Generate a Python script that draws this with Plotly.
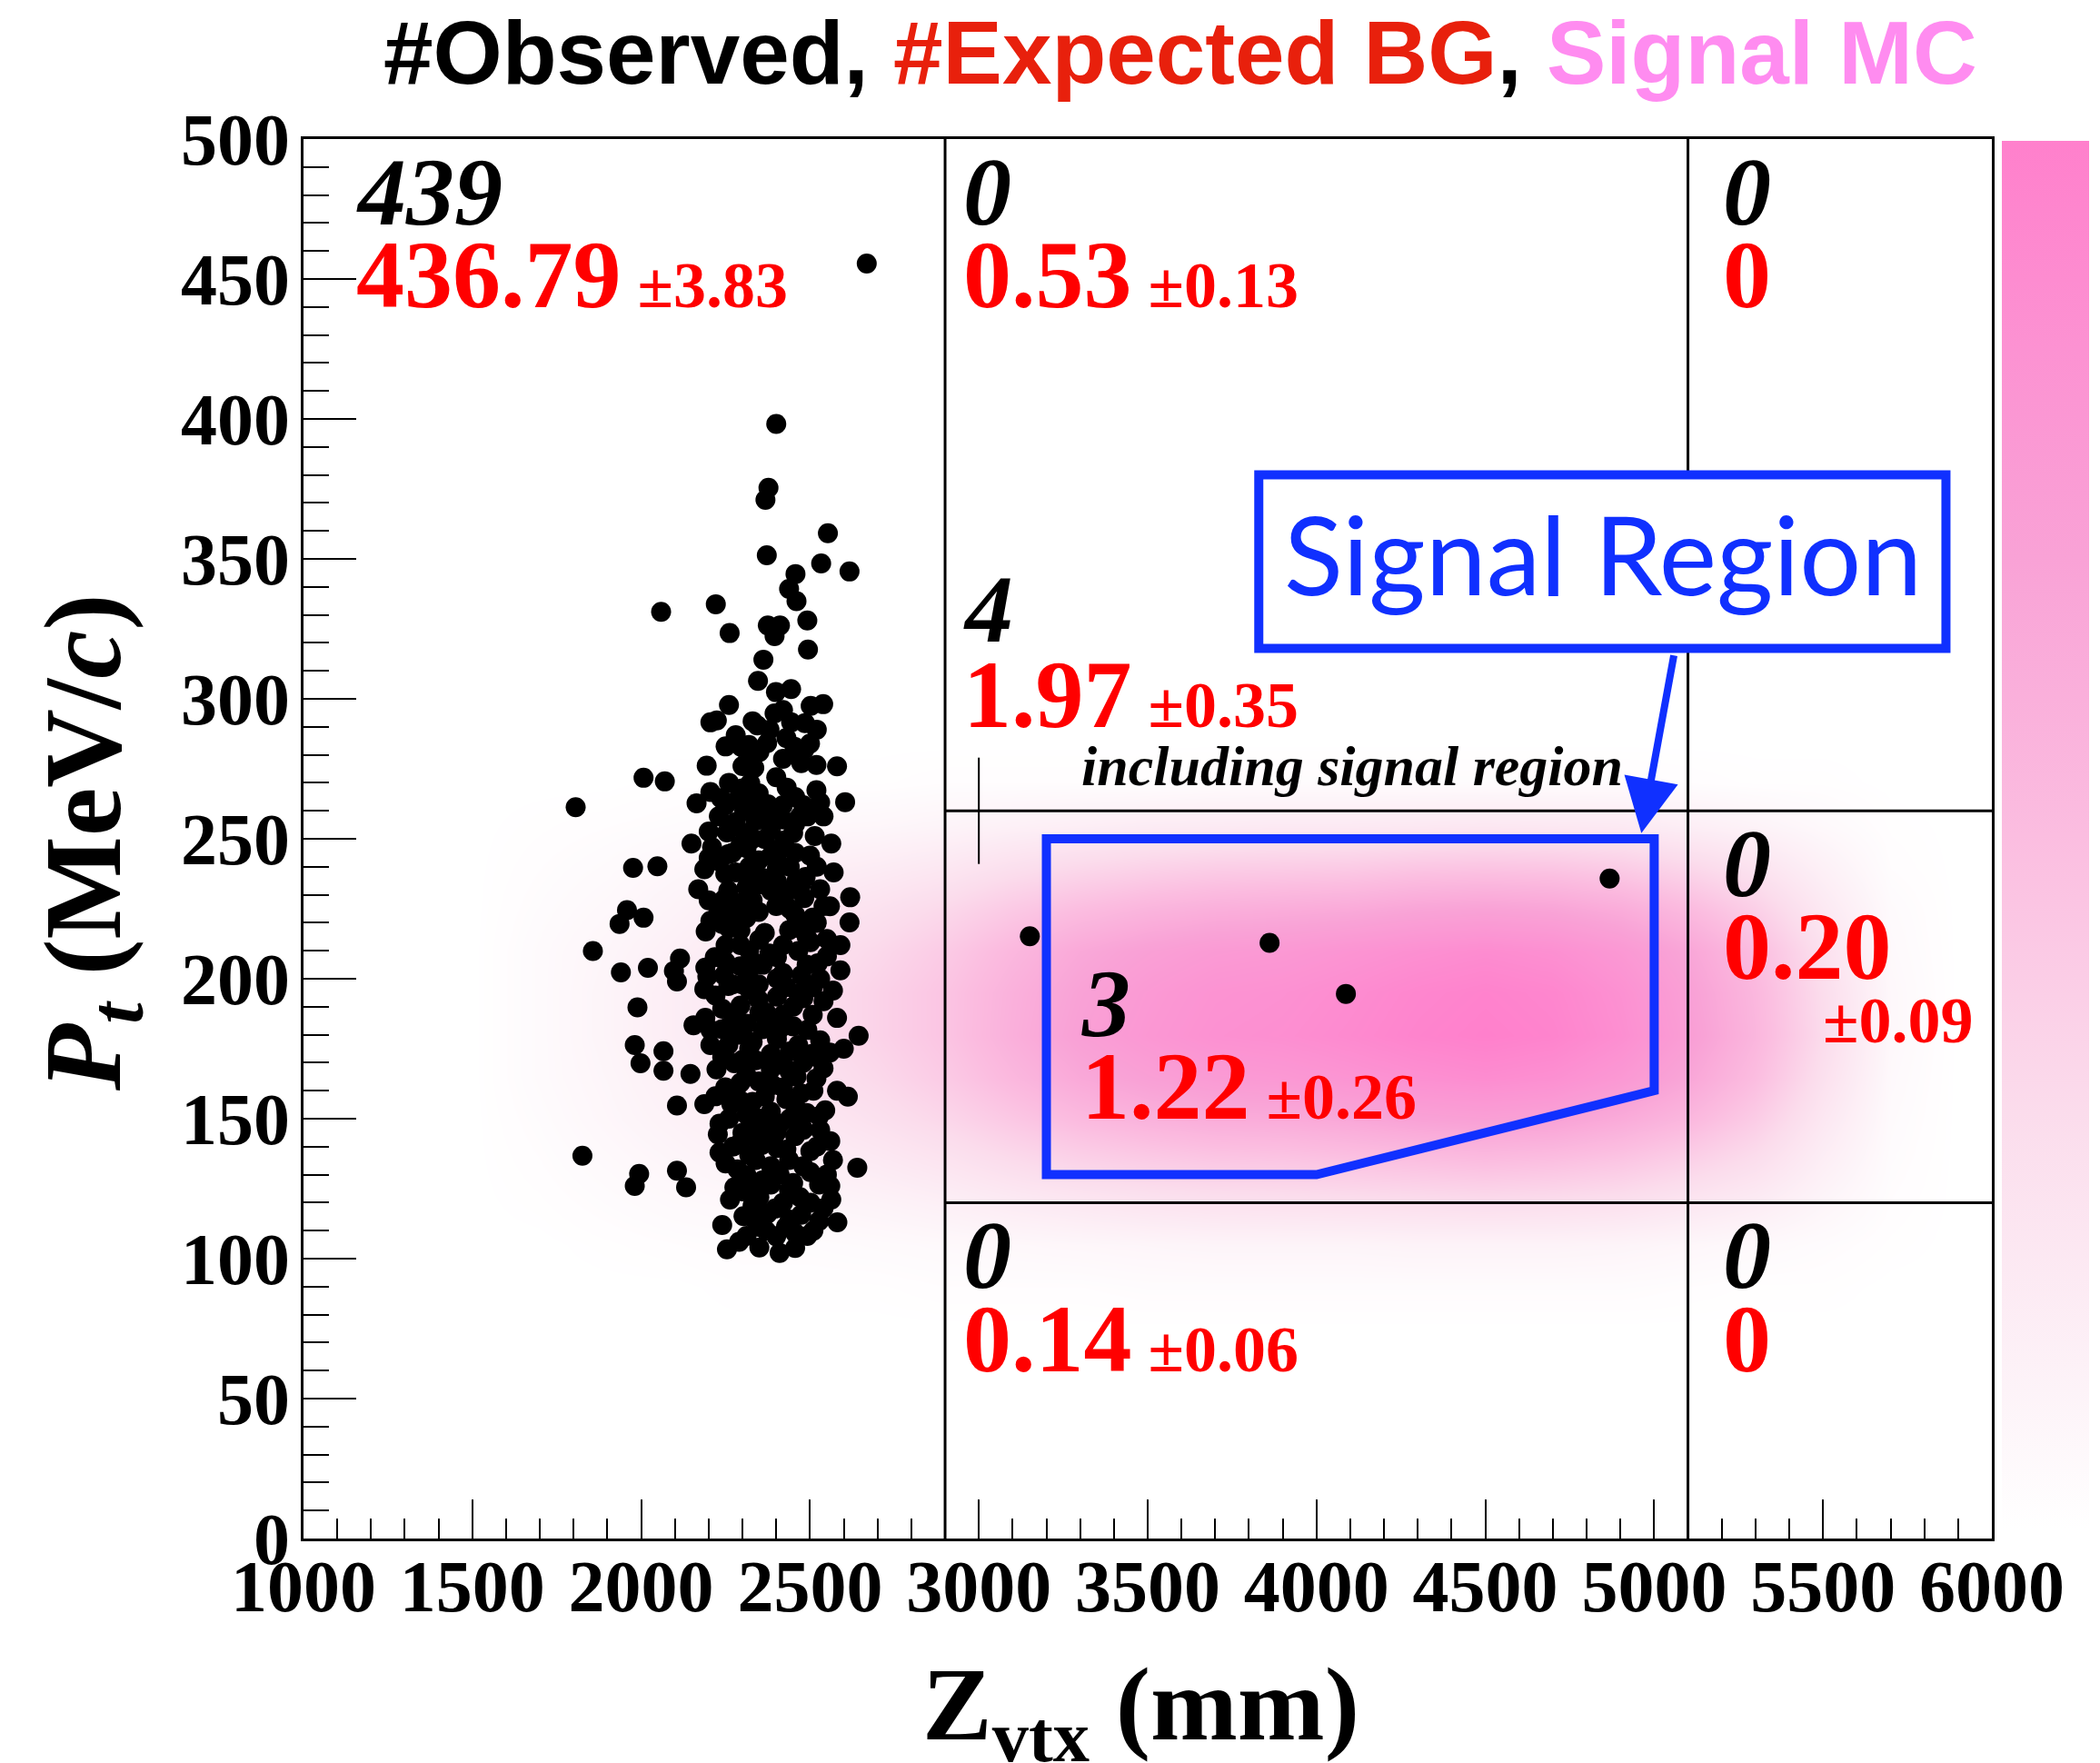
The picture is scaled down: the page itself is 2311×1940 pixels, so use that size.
import plotly.graph_objects as go

# ---------------- data ----------------
# observed events (Zvtx [mm], Pt [MeV/c])
obs_z = [2668, 2400, 2377, 2368, 2553, 2372, 2533, 2617, 2457, 2438,
         2460, 2059, 2221, 2262, 2492, 2375, 2411, 2395, 2494, 2362,
         2346, 2399, 2444, 2260, 2502, 2539, 2395, 2205, 2224, 2344,
         2444, 2485, 2296, 2319, 2373, 2454, 2483, 2420, 2317, 2194,
         2335, 2519, 2580, 2474, 2007, 2070, 1806, 2205, 2236, 2164,
         2323, 2431, 2519, 2604, 2456, 2317, 2375, 2305, 2492, 2420,
         2456, 2200, 2254, 2308, 2366, 2424, 2514, 2563, 2149, 2258,
         2312, 2456, 2384, 2200, 1976, 2048, 2187, 2249, 2317, 2402,
         2487, 2474, 2169, 2258, 2312, 2384, 2483, 2619, 2559, 1958,
         2007, 2245, 2294, 2420, 2227, 2348, 2508, 2617, 1936,
         2285, 2348, 2384, 2339, 2384, 2294, 2348, 2402, 2348, 2258, 2312, 2456, 2438, 2205,
         1857, 1940, 2020, 2115, 2097, 2106, 2191, 2218, 2196, 2245, 2187, 2258,
         2550, 2523, 2568, 2644, 1989, 1981, 1998, 2066, 2066, 2155, 2146, 2106, 2187, 2267,
         1826, 1994, 1981, 2106, 2133, 2232, 2227, 2232, 2272, 2285, 2312, 2276, 2263, 2254, 2312, 2330, 2375,
         2612, 2640, 2568, 2563, 2581, 2545, 2559, 2505, 2438, 2519, 2527, 2501, 2501, 2501, 2456, 2492,
         2429, 2348, 2397, 2438, 2384, 2339, 2402, 2456, 2339, 2312, 2384, 2456, 2366, 2474, 2294, 2348,
         2420, 2223, 2276, 2339, 2384, 2465, 2205, 2258, 2330, 2402, 2492, 2205, 2258, 2312, 2384, 2420,
         2508, 2240, 2294, 2348, 2402, 2465, 2508, 2348, 2402, 2474, 2294, 2339, 2402, 2465, 2294, 2294,
         2366, 2438, 2501, 2240, 2384, 2312, 2249, 2411, 2474, 2357, 2438, 2384, 2330, 2474, 2527, 2456,
         2303, 2527,
         2290, 2350, 2400, 2420, 2470, 2540, 2330, 2370,
         2290, 2320, 2360, 2410, 2450, 2480, 2520, 2550, 2300,
         2260, 2300, 2350, 2400, 2430, 2490, 2510, 2440,
         2240, 2290, 2320, 2360, 2420, 2450, 2480, 2530, 2280,
         2220, 2270, 2320, 2370, 2430, 2450, 2490, 2540, 2320,
         2250, 2270, 2320, 2350, 2420, 2470, 2520, 2550,
         2230, 2280, 2330, 2360, 2400, 2440, 2500, 2530,
         2230, 2280, 2330, 2360, 2400, 2450, 2480, 2540,
         2260, 2300, 2350, 2400, 2430, 2500, 2280,
         2240, 2300, 2350, 2440, 2510, 2560, 2410,
         2250, 2340, 2380, 2430, 2480, 2530, 2560,
         2220, 2280, 2330, 2390, 2460, 2540, 2580,
         2190, 2240, 2300, 2350, 2410, 2440, 2520, 2580, 2600,
         2190, 2250, 2300, 2360, 2420, 2480, 2530, 2590,
         2200, 2260, 2320, 2380, 2440, 2490, 2540, 2590,
         2210, 2270, 2320, 2400, 2460, 2520, 2570,
         2250, 2300, 2350, 2420, 2470, 2530,
         2250, 2330, 2380, 2420, 2460, 2520,
         3151, 3861, 4087, 4868]
obs_pt = [455.5, 398.2, 375.4, 371.1, 359.2, 351.3, 348.4, 345.5, 344.6, 339.3,
          334.9, 331.1, 333.8, 323.5, 328.0, 326.2, 326.2, 322.4, 317.6, 314.0,
          306.4, 302.4, 303.5, 297.8, 297.5, 298.1, 294.8, 291.6, 292.3, 290.5,
          291.6, 291.3, 282.9, 283.5, 284.2, 282.9, 281.8, 278.6, 279.2, 276.1,
          275.3, 276.4, 275.9, 277.0, 271.8, 270.5, 261.3, 266.7, 264.5, 262.7,
          269.9, 268.3, 267.4, 263.1, 264.9, 264.5, 262.3, 259.9, 258.0, 256.9,
          255.3, 252.6, 252.3, 252.1, 249.9, 249.4, 251.0, 248.3, 248.3, 244.5,
          246.7, 245.0, 243.9, 243.2, 239.6, 240.2, 239.1, 237.5, 239.1, 239.6,
          236.4, 233.7, 232.0, 231.5, 232.6, 231.5, 228.8, 229.1, 225.9, 224.5,
          221.8, 228.3, 227.2, 227.2, 222.9, 223.9, 221.8, 220.1, 219.6,
          264.0, 266.2, 259.7, 256.4, 253.2, 247.7, 242.3, 234.8, 233.7, 225.0, 221.8, 222.9, 231.5, 220.7,
          209.9, 202.3, 203.9, 207.2, 202.8, 199.0, 216.9, 207.7, 200.7, 201.2, 196.3, 197.4,
          214.2, 205.5, 195.8, 179.6, 189.8, 176.3, 169.8, 174.1, 167.1, 183.4, 166.0, 154.7, 155.2, 155.2,
          136.8, 130.3, 126.0, 131.4, 125.5, 148.2, 144.4, 137.9, 140.0, 131.9, 129.8, 125.5, 121.1, 103.3, 108.1, 114.6, 116.2,
          157.9, 132.5, 135.2, 121.1, 113.0, 153.0, 173.6, 173.1, 167.1, 164.4, 150.9, 138.4, 130.9, 120.0, 103.8, 108.1,
          111.4, 111.4, 117.9, 124.4, 126.5, 135.2, 139.5, 143.8, 146.0, 151.4, 152.5, 154.7, 157.9, 159.0, 162.8, 163.3,
          161.2, 167.6, 169.8, 170.9, 173.1, 176.3, 176.3, 176.3, 177.4, 178.5, 181.7, 181.7, 182.8, 183.9, 185.0, 187.1,
          187.1, 189.3, 190.4, 192.5, 193.6, 194.7, 196.9, 198.0, 200.1, 201.2, 204.5, 205.5, 207.7, 209.9, 212.0, 217.4,
          216.4, 217.4, 213.1, 219.6, 167.6, 165.5, 161.2, 148.2, 148.2, 140.6, 135.2, 133.0, 124.4, 115.7, 113.5, 109.2,
          115.2, 126.5,
          106, 104, 108, 120, 122, 118, 119, 110,
          141, 137, 128, 130, 127, 133, 140, 130, 145,
          150, 156, 150, 145, 157, 152, 160, 150,
          172, 180, 175, 182, 170, 183, 170, 178, 186,
          194, 198, 196, 188, 197, 190, 205, 192, 203,
          212, 223, 210, 214, 212, 218, 220, 208,
          242, 238, 228, 236, 226, 240, 244, 232,
          258, 256, 250, 258, 246, 252, 262, 258,
          270, 276, 281, 272, 286, 284, 287,
          112, 124, 122, 114, 110, 126, 102,
          134, 143, 146, 139, 146, 146, 142,
          158, 160, 156, 162, 165, 168, 160,
          186, 182, 171, 188, 182, 174, 172, 186, 175,
          204, 206, 198, 205, 202, 193, 200, 203,
          228, 218, 224, 209, 225, 215, 226, 212,
          247, 245, 240, 244, 235, 240, 238,
          262, 268, 262, 262, 258, 263,
          283, 292, 289, 296, 280, 289,
          215.2, 212.8, 194.6, 235.8]

# signal MC density (arbitrary units), bin centres
mc_z = [1500, 1700, 1900, 2100, 2300, 2500, 2700, 2900, 3100, 3300, 3500, 3700,
        3900, 4100, 4300, 4500, 4700, 4900, 5100, 5300, 5500, 5700, 5900]
mc_pt = [75, 90, 105, 120, 135, 150, 165, 180, 195, 210, 225, 240, 255, 270, 285]
mc_density = [
    [0, 0, 0, 0, 0, 0, 0, 0, 0, 0, 0, 0, 0, 0, 0, 0, 0, 0, 0, 0, 0, 0, 0],
    [0, 0, 0, 0, 1, 1, 1, 2, 2, 2, 3, 3, 3, 3, 3, 3, 3, 3, 2, 1, 1, 0, 0],
    [0, 0, 1, 2, 3, 3, 4, 5, 6, 7, 8, 9, 9, 9, 10, 10, 10, 9, 7, 5, 3, 1, 0],
    [0, 1, 3, 5, 6, 8, 10, 13, 17, 20, 23, 25, 26, 27, 28, 29, 28, 26, 21, 16, 8, 2, 0],
    [0, 2, 5, 8, 11, 14, 18, 23, 30, 36, 40, 43, 44, 46, 48, 50, 48, 44, 37, 28, 14, 3, 0],
    [0, 3, 7, 11, 15, 20, 26, 33, 43, 52, 58, 62, 63, 66, 70, 72, 70, 63, 54, 40, 20, 4, 0],
    [0, 4, 8, 13, 19, 25, 32, 41, 54, 65, 72, 77, 79, 83, 87, 90, 87, 79, 67, 50, 26, 5, 0],
    [0, 4, 9, 15, 21, 28, 36, 45, 60, 72, 80, 86, 88, 92, 97, 100, 97, 88, 74, 55, 30, 6, 0],
    [0, 4, 9, 15, 21, 28, 36, 45, 59, 70, 78, 84, 86, 90, 95, 98, 95, 86, 72, 54, 29, 6, 0],
    [0, 4, 8, 13, 19, 25, 32, 41, 54, 65, 72, 77, 79, 83, 87, 90, 87, 79, 67, 50, 26, 5, 0],
    [0, 3, 6, 10, 15, 20, 25, 32, 42, 50, 56, 60, 62, 64, 68, 70, 68, 62, 52, 38, 19, 4, 0],
    [0, 2, 4, 7, 9, 13, 16, 20, 27, 32, 36, 39, 40, 41, 44, 45, 44, 40, 33, 24, 12, 2, 0],
    [0, 1, 2, 3, 4, 6, 7, 9, 12, 14, 16, 17, 18, 18, 19, 20, 19, 18, 14, 10, 5, 1, 0],
    [0, 0, 0, 1, 1, 1, 1, 2, 2, 2, 2, 3, 3, 3, 3, 3, 3, 3, 2, 1, 1, 0, 0],
    [0, 0, 0, 0, 0, 0, 0, 0, 0, 0, 0, 0, 0, 0, 0, 0, 0, 0, 0, 0, 0, 0, 0],
]

# region boundaries
z_cuts = [2900, 5100]
pt_cuts = [120, 260]
# signal region polygon
sr_z = [3200, 5000, 5000, 4000, 3200, 3200]
sr_pt = [250, 250, 160, 130, 130, 250]

# cell labels: observed, expected, error
obs_counts = ["439", "0", "0", "4", "3", "0", "0", "0"]
exp_values = ["436.79", "0.53", "0", "1.97", "1.22", "0.20", "0.14", "0"]
exp_errors = ["±3.83", "±0.13", "", "±0.35", "±0.26", "±0.09", "±0.06", ""]

x_ticks = [1000, 1500, 2000, 2500, 3000, 3500, 4000, 4500, 5000, 5500, 6000]
y_ticks = [0, 50, 100, 150, 200, 250, 300, 350, 400, 450, 500]

# ---------------- figure ----------------
SERIF = "Liberation Serif, Times New Roman, serif"
RED = "#ff0000"
BLUE = "#1030ff"

fig = go.Figure()

fig.add_trace(go.Heatmap(
    x=mc_z, y=mc_pt, z=mc_density, zsmooth="best", zmin=0, zmax=100,
    colorscale=[[0, "#ffffff"], [0.1, "#fdf3f8"], [0.3, "#fbdcec"], [0.5, "#fbbde0"],
                [0.7, "#f9a2d6"], [0.85, "#fc92d2"], [1, "#ff80cc"]],
    hoverinfo="skip",
    colorbar=dict(x=1.0059, xanchor="left", xpad=0, ypad=0, thickness=96,
                  len=0.9916, y=0.503, yanchor="middle", outlinewidth=0,
                  showticklabels=False, ticks=""),
))

fig.add_trace(go.Scatter(
    x=obs_z, y=obs_pt, mode="markers",
    marker=dict(color="black", size=22, line=dict(width=0)),
    hoverinfo="skip", showlegend=False,
))

shapes = []
for zc in z_cuts:
    shapes.append(dict(type="line", xref="x", yref="y", x0=zc, x1=zc, y0=0, y1=500,
                       line=dict(color="black", width=3), layer="above"))
for pc in pt_cuts:
    shapes.append(dict(type="line", xref="x", yref="y", x0=z_cuts[0], x1=6000, y0=pc, y1=pc,
                       line=dict(color="black", width=3), layer="above"))
shapes.append(dict(type="line", xref="x", yref="y", x0=3000, x1=3000, y0=241, y1=279,
                   line=dict(color="black", width=2), layer="above"))
path = "M " + " L ".join(f"{z},{p}" for z, p in zip(sr_z, sr_pt)) + " Z"
shapes.append(dict(type="path", xref="x", yref="y", path=path,
                   line=dict(color=BLUE, width=10), layer="above"))
shapes.append(dict(type="rect", xref="x", yref="y", x0=3829, x1=5864, y0=318, y1=380,
                   line=dict(color=BLUE, width=10), fillcolor="white", layer="above"))
fig.update_layout(shapes=shapes)

ann = []

def exp_text(v, e):
    if e:
        return v + f"<span style='font-size:72px'> {e}</span>"
    return v

cols = {"L": 1152, "M": 2949, "R": 5197, "S": 3298}
pos_obs = [("L", 481), ("M", 481), ("R", 481), ("M", 332), ("S", 191), ("R", 241), ("M", 101), ("R", 101)]
pos_exp = [("L", 451.6), ("M", 451.6), ("R", 451.6), ("M", 301.4), ("S", 161.6), ("R", 211.4), ("M", 71.2), ("R", 71.2)]
for i in range(len(obs_counts)):
    c, y = pos_obs[i]
    ann.append(dict(x=cols[c], y=y, xref="x", yref="y", xanchor="left", yanchor="middle",
                    text=obs_counts[i], showarrow=False,
                    font=dict(family=SERIF, size=106, color="black", weight="bold", style="italic")))
    c, y = pos_exp[i]
    if exp_errors[i] == "±0.09":
        txt = exp_values[i]
        ann.append(dict(x=5495, y=185.1, xref="x", yref="y", xanchor="left", yanchor="middle",
                        text=exp_errors[i], showarrow=False,
                        font=dict(family=SERIF, size=72, color=RED, weight="bold")))
    else:
        txt = exp_text(exp_values[i], exp_errors[i])
    ann.append(dict(x=cols[c], y=y, xref="x", yref="y", xanchor="left", yanchor="middle",
                    text=txt, showarrow=False,
                    font=dict(family=SERIF, size=106, color=RED, weight="bold")))

ann.append(dict(x=3298, y=276, xref="x", yref="y", xanchor="left", yanchor="middle",
                text="including signal region", showarrow=False,
                font=dict(family=SERIF, size=62, color="black", weight="bold", style="italic")))

ann.append(dict(x=4848, y=352, xref="x", yref="y", xanchor="center", yanchor="middle",
                text="Signal Region", showarrow=False,
                font=dict(family="Lato, Open Sans, sans-serif", size=120, color=BLUE)))

ann.append(dict(x=4962, y=252, ax=5059, ay=316, xref="x", yref="y", axref="x", ayref="y",
                text="", showarrow=True, arrowhead=2, arrowsize=1.5, arrowwidth=8,
                arrowcolor=BLUE))

title = ("<span style='color:#000000'>#Observed, </span>"
         "<span style='color:#e8200c'>#Expected BG</span>"
         "<span style='color:#000000'>, </span>"
         "<span style='color:#ff8cf0'>Signal MC</span>")
ann.append(dict(x=0.5194, y=(1693 - 58) / 1540, xref="paper", yref="paper",
                xanchor="center", yanchor="middle", text=title, showarrow=False,
                font=dict(family="Liberation Sans Narrow, Liberation Sans, sans-serif",
                          size=98, weight="bold")))

ann.append(dict(x=(100 - 334) / 1858, y=(1693 - 928) / 1540, xref="paper", yref="paper",
                xanchor="center", yanchor="middle", textangle=-90, showarrow=False,
                text="<i>P<sub>t</sub></i> (MeV/<i>c</i>)",
                font=dict(family=SERIF, size=120, color="black", weight="bold")))
ann.append(dict(x=(1255 - 334) / 1858, y=(1693 - 1884) / 1540, xref="paper", yref="paper",
                xanchor="center", yanchor="middle", showarrow=False,
                text="Z<sub>vtx</sub> (mm)",
                font=dict(family=SERIF, size=115, color="black", weight="bold")))

fig.update_layout(annotations=ann)

axis_common = dict(showgrid=False, zeroline=False, showline=True, mirror=True,
                   linecolor="black", linewidth=3, ticks="inside", tickcolor="black",
                   tickwidth=2,
                   tickfont=dict(family=SERIF, size=80, color="black", weight="bold"))
fig.update_xaxes(range=[1000, 6000], tickvals=x_ticks, ticktext=[str(v) for v in x_ticks],
                 ticklen=43, ticklabelstandoff=-19,
                 minor=dict(dtick=100, tick0=1000, ticklen=22, ticks="inside", tickwidth=2,
                            tickcolor="black", showgrid=False),
                 **axis_common)
fig.update_yaxes(range=[0, 500], tickvals=y_ticks, ticktext=[str(v) for v in y_ticks],
                 ticklen=58, ticklabelstandoff=-4,
                 minor=dict(dtick=10, tick0=0, ticklen=28, ticks="inside", tickwidth=2,
                            tickcolor="black", showgrid=False),
                 **axis_common)

fig.update_layout(width=2311, height=1940, margin=dict(l=334, r=119, t=153, b=247),
                  paper_bgcolor="white", plot_bgcolor="white", showlegend=False)

fig.write_html("out.html")
